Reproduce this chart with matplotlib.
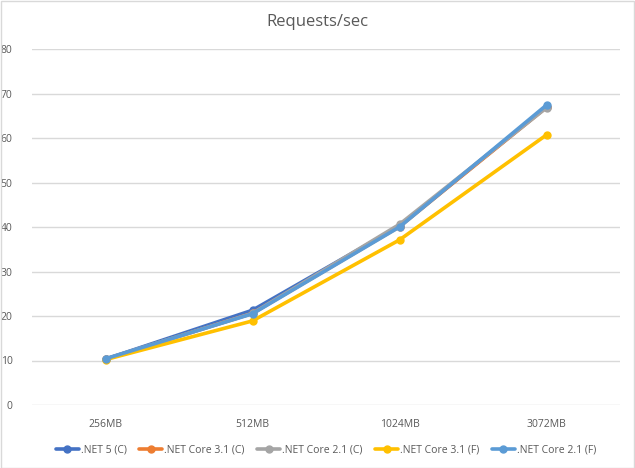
import matplotlib.pyplot as plt
import numpy as np

categories = ["256MB", "512MB", "1024MB", "3072MB"]
net5_c = [10.3, 21.3, 40.2, 67.0]
core31_c = [10.3, 20.6, 40.1, 66.9]
core21_c = [10.3, 20.6, 40.6, 66.8]
core31_f = [10.2, 18.9, 37.1, 60.7]
core21_f = [10.4, 20.5, 40.0, 67.4]

series = [
    (".NET 5 (C)", net5_c, "#4472C4"),
    (".NET Core 3.1 (C)", core31_c, "#ED7D31"),
    (".NET Core 2.1 (C)", core21_c, "#A5A5A5"),
    (".NET Core 3.1 (F)", core31_f, "#FFC000"),
    (".NET Core 2.1 (F)", core21_f, "#5B9BD5"),
]

plt.rcParams['font.family'] = ['Open Sans', 'DejaVu Sans']
fig = plt.figure(figsize=(6.35, 4.68), dpi=100)
fig.patches.append(plt.Rectangle((0.001, 0.001), 0.997, 0.997, transform=fig.transFigure,
                                 fill=False, edgecolor="#d9d9d9", linewidth=1))
ax = fig.add_axes([32 / 635, 1 - 405 / 468, 588 / 635, 356 / 468])

x = np.arange(len(categories))
for name, vals, col in series:
    ax.plot(x, vals, color=col, linewidth=2.6, marker="o", markersize=5, label=name,
            solid_capstyle="round")

ax.set_xlim(-0.5, len(categories) - 0.5)
ax.set_ylim(0, 80)
ax.set_yticks(range(0, 81, 10))
ax.set_xticks(x)
ax.set_xticklabels(categories)
ax.grid(axis="y", color="#d9d9d9", linewidth=1)
ax.set_axisbelow(True)
for s in ax.spines.values():
    s.set_visible(False)
ax.tick_params(length=0, labelsize=7.5, labelcolor="#595959")
ax.tick_params(axis="y", pad=14)
ax.tick_params(axis="x", pad=10)

fig.text(0.5, 1 - 22 / 468, "Requests/sec", ha="center", va="center", fontsize=12, color="#595959")
ax.legend(loc="center", bbox_to_anchor=(0.5, (405 - 450) / 356), ncol=5, frameon=False,
          fontsize=7.5, labelcolor="#595959", handlelength=2.2, handletextpad=0.2, columnspacing=1.2)

fig.savefig("out.png", dpi=100)
